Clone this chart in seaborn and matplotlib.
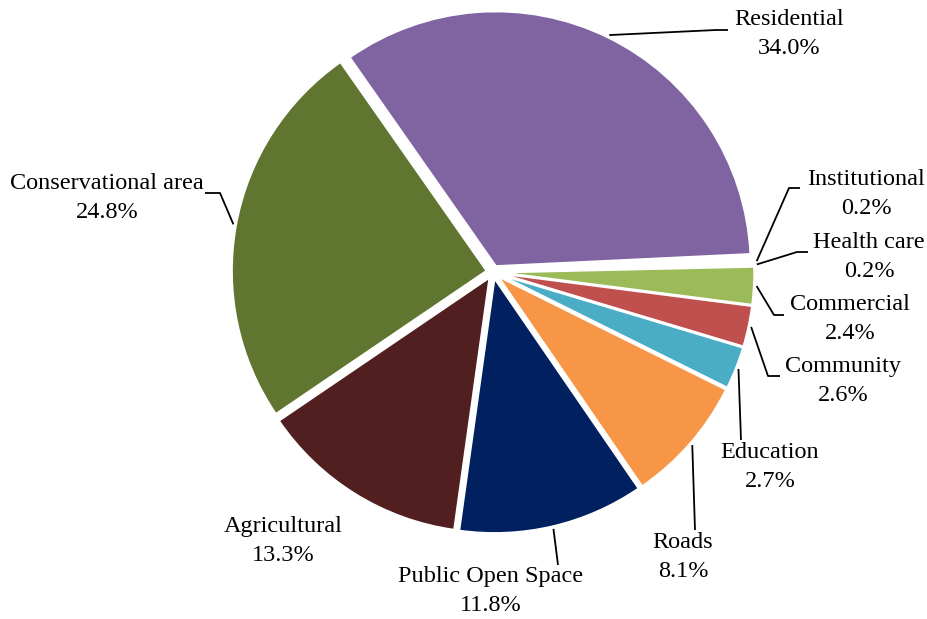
import numpy as np
import matplotlib
matplotlib.use("Agg")
import matplotlib.pyplot as plt
import seaborn as sns

# Land-use shares (percent), listed clockwise starting from Residential
categories = ["Residential", "Institutional", "Health care", "Commercial",
              "Community", "Education", "Roads", "Public Open Space",
              "Agricultural", "Conservational area"]
shares = [34.0, 0.2, 0.2, 2.4, 2.6, 2.7, 8.1, 11.8, 13.3, 24.8]
colors = ["#8064A2", "#FFFFFF", "#FFFFFF", "#9BBB59", "#C0504D",
          "#4BACC6", "#F79646", "#002060", "#511F1F", "#5F7530"]

sns.set_theme(style="white")
plt.rcParams["font.family"] = ["Liberation Serif", "DejaVu Serif"]

W, H, DPI = 927, 619, 100
CX, CY, R = 493, 272, 255  # pie centre and radius in figure pixels


def to_data(px, py):
    """Figure pixel position -> axes data units (radius = 1)."""
    return (px - CX) / R, (CY - py) / R


fig = plt.figure(figsize=(W / DPI, H / DPI), dpi=DPI)
ax = fig.add_axes([0, 0, 1, 1])

palette = sns.color_palette(colors)
wedges, _ = ax.pie(shares, colors=palette, startangle=125, counterclock=False,
                   explode=[0.025] * len(shares), radius=1.0,
                   wedgeprops=dict(edgecolor="white", linewidth=1.6))

x0, y1 = to_data(0, 0)
x1, y0 = to_data(W, H)
ax.set_xlim(x0, x1)
ax.set_ylim(y0, y1)
ax.set_aspect("equal", adjustable="datalim")
ax.axis("off")

# label layout: text centre, then leader points after the wedge anchor (pixels)
layout = {
    "Residential": ((789, 34), [(716, 30), (728, 30)]),
    "Institutional": ((866, 194), [(789, 188), (800, 188)]),
    "Health care": ((869, 257), [(797, 252), (808, 252)]),
    "Commercial": ((850, 319), [(774, 315), (784, 315)]),
    "Community": ((843, 381), [(768, 376), (780, 376)]),
    "Education": ((770, 467), [(741, 440)]),
    "Roads": ((683, 557), [(695, 530)]),
    "Public Open Space": ((491, 591), [(558, 565)]),
    "Agricultural": ((283, 541), []),
    "Conservational area": ((107, 198), [(220, 193), (205, 193)]),
}

for wedge, name, val in zip(wedges, categories, shares):
    (tx, ty), path = layout[name]
    mid = np.deg2rad((wedge.theta1 + wedge.theta2) / 2)
    cx, cy = wedge.center
    ax_, ay_ = cx + 1.01 * np.cos(mid), cy + 1.01 * np.sin(mid)
    if path:
        pts = [(ax_, ay_)] + [to_data(*p) for p in path]
        xs, ys = zip(*pts)
        ax.plot(xs, ys, color="black", linewidth=1.3, solid_capstyle="butt")
    dx, dy = to_data(tx, ty)
    ax.text(dx, dy, f"{name}\n{val:.1f}%", ha="center", va="center",
            fontsize=17.5, color="black", linespacing=1.5)

fig.savefig("out.png", dpi=DPI, facecolor="white")
